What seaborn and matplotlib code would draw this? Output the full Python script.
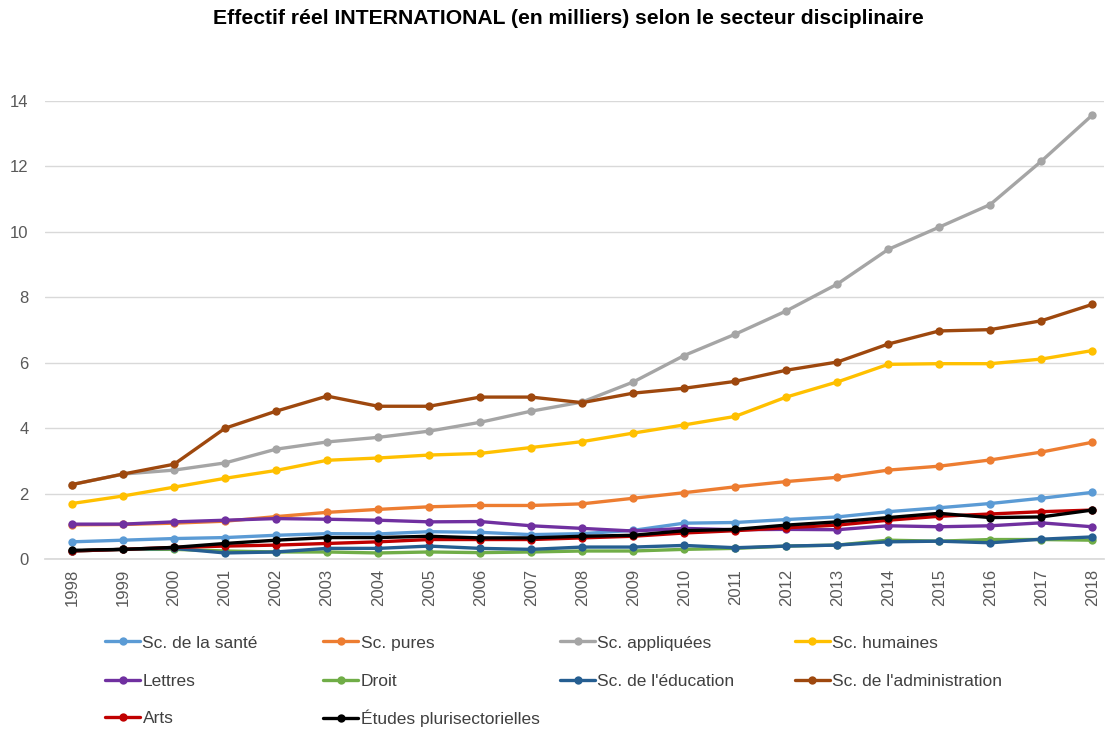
import pandas as pd
import seaborn as sns
import matplotlib.pyplot as plt

sns.set_theme(style="white")
plt.rcParams['font.family'] = ['Liberation Sans', 'DejaVu Sans']

years = list(range(1998, 2019))

sante = [0.53, 0.58, 0.63, 0.66, 0.73, 0.78, 0.77, 0.84, 0.82, 0.75, 0.78, 0.88, 1.10,
         1.12, 1.21, 1.29, 1.45, 1.57, 1.70, 1.86, 2.04]
pures = [1.05, 1.06, 1.10, 1.16, 1.30, 1.43, 1.52, 1.60, 1.64, 1.64, 1.69, 1.86, 2.03,
         2.21, 2.37, 2.50, 2.72, 2.84, 3.03, 3.27, 3.57]
appliquees = [2.28, 2.60, 2.72, 2.94, 3.36, 3.58, 3.72, 3.91, 4.18, 4.52, 4.80, 5.41, 6.22,
              6.87, 7.58, 8.40, 9.46, 10.14, 10.83, 12.15, 13.56]
humaines = [1.70, 1.93, 2.20, 2.47, 2.71, 3.02, 3.09, 3.18, 3.23, 3.41, 3.59, 3.85, 4.10,
            4.36, 4.95, 5.41, 5.95, 5.97, 5.97, 6.11, 6.37]
lettres = [1.07, 1.07, 1.14, 1.19, 1.24, 1.22, 1.19, 1.14, 1.15, 1.02, 0.94, 0.86, 0.94,
           0.90, 0.91, 0.90, 1.02, 0.99, 1.02, 1.11, 0.99]
droit = [0.25, 0.30, 0.30, 0.25, 0.22, 0.22, 0.19, 0.22, 0.20, 0.22, 0.25, 0.25, 0.30,
         0.33, 0.40, 0.43, 0.58, 0.55, 0.60, 0.60, 0.58]
education = [0.25, 0.30, 0.33, 0.19, 0.22, 0.33, 0.33, 0.40, 0.33, 0.30, 0.37, 0.37, 0.42,
             0.35, 0.40, 0.43, 0.53, 0.55, 0.50, 0.61, 0.68]
administration = [2.28, 2.60, 2.90, 4.00, 4.52, 4.98, 4.67, 4.67, 4.95, 4.95, 4.78, 5.07, 5.22,
                  5.43, 5.77, 6.02, 6.57, 6.97, 7.01, 7.28, 7.78]
arts = [0.25, 0.30, 0.36, 0.40, 0.43, 0.48, 0.53, 0.60, 0.60, 0.60, 0.65, 0.70, 0.80,
        0.87, 0.96, 1.04, 1.19, 1.31, 1.38, 1.45, 1.50]
etudes = [0.27, 0.30, 0.36, 0.48, 0.58, 0.66, 0.66, 0.70, 0.65, 0.65, 0.70, 0.73, 0.87,
          0.91, 1.04, 1.14, 1.27, 1.40, 1.27, 1.29, 1.50]

series = {
    "Sc. de la santé": sante,
    "Sc. pures": pures,
    "Sc. appliquées": appliquees,
    "Sc. humaines": humaines,
    "Lettres": lettres,
    "Droit": droit,
    "Sc. de l'éducation": education,
    "Sc. de l'administration": administration,
    "Arts": arts,
    "Études plurisectorielles": etudes,
}
colors = ["#5B9BD5", "#ED7D31", "#A5A5A5", "#FFC000", "#7030A0",
          "#70AD47", "#255E91", "#9E480E", "#C00000", "#000000"]

df = pd.DataFrame(series, index=years).reset_index(names="annee")
df = df.melt(id_vars="annee", var_name="secteur", value_name="effectif")

fig = plt.figure(figsize=(11.07, 7.30), dpi=100)
ax = fig.add_axes([0.0407, 0.234, 0.957, 0.628])

sns.lineplot(data=df, x="annee", y="effectif", hue="secteur", palette=colors,
             hue_order=list(series.keys()), marker="o", markersize=6,
             markeredgewidth=0, linewidth=2.4, ax=ax)

ax.set_xlim(1997.47, 2018.24)
ax.set_ylim(0, 14)
ax.set_yticks(range(0, 15, 2))
ax.set_xticks(years)
ax.set_xticklabels([str(y) for y in years], rotation=90)
ax.tick_params(axis="both", colors="#595959", labelsize=12, length=0)
ax.tick_params(axis="y", pad=12)
ax.tick_params(axis="x", pad=7)
ax.set_xlabel("")
ax.set_ylabel("")
ax.grid(axis="y", color="#D9D9D9", linewidth=1)
for s in ["top", "right", "left"]:
    ax.spines[s].set_visible(False)
ax.spines["bottom"].set_color("#D9D9D9")

# legend in a 4-column grid filled row by row; one tiny legend per entry
handles, labels = ax.get_legend_handles_labels()
ax.get_legend().remove()
col_x = [0.095, 0.292, 0.506, 0.718]
row_y = [0.1192, 0.0671, 0.0164]
for i, (h, lab) in enumerate(zip(handles, labels)):
    fig.legend([h], [lab], loc="center left",
               bbox_to_anchor=(col_x[i % 4], row_y[i // 4]), frameon=False,
               fontsize=12.5, handlelength=2.0, handletextpad=0.15,
               borderpad=0, borderaxespad=0, labelcolor="#404040")

fig.text(0.513, 0.975,
         "Effectif réel INTERNATIONAL (en milliers) selon le secteur disciplinaire",
         ha="center", va="center", fontsize=15.2, fontweight="bold", color="#000000")

fig.savefig("out.png", dpi=100)
